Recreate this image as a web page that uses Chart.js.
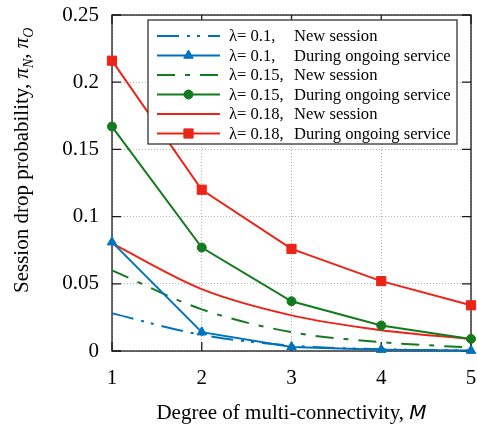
<!DOCTYPE html>
<html>
<head>
<meta charset="utf-8">
<script src="https://cdn.jsdelivr.net/npm/chart.js@4.4.0/dist/chart.umd.min.js"></script>
<style>
  body { margin: 0; background: #fff; }
  #wrap { width: 477px; height: 426px; }
</style>
</head>
<body>
<div id="wrap"><canvas id="chartCanvas" width="477" height="426"></canvas></div>
<script>
// degree of multi-connectivity M
const mValues = [1, 2, 3, 4, 5];
const yTicks = [0, 0.05, 0.1, 0.15, 0.2, 0.25];

// session drop probability
const newL01 = [0.028, 0.012, 0.004, 0.0013, 0.0004];
const ongoingL01 = [0.081, 0.014, 0.003, 0.001, 0.0003];
const newL015 = [0.060, 0.031, 0.014, 0.0066, 0.0025];
const ongoingL015 = [0.167, 0.077, 0.037, 0.019, 0.009];
const newL018 = [0.080, 0.046, 0.0265, 0.0155, 0.009];
const ongoingL018 = [0.216, 0.120, 0.076, 0.052, 0.034];

const lambdaLabels = ['λ= 0.1,', 'λ= 0.1,', 'λ= 0.15,', 'λ= 0.15,', 'λ= 0.18,', 'λ= 0.18,'];
const kindLabels = ['New session', 'During ongoing service', 'New session',
  'During ongoing service', 'New session', 'During ongoing service'];

const BLUE = '#0072bd';
const GREEN = '#137a1e';
const RED = '#ec2418';
const SERIF = '"Liberation Serif", "Times New Roman", serif';

function pts(arr) {
  return arr.map((v, i) => ({ x: mValues[i], y: v }));
}

function newSession(idx, data, color, dash) {
  return {
    label: lambdaLabels[idx] + ' ' + kindLabels[idx],
    data: pts(data),
    borderColor: color,
    backgroundColor: color,
    borderWidth: 2,
    borderDash: dash,
    pointRadius: 0,
    cubicInterpolationMode: 'monotone',
    clip: false
  };
}

function ongoing(idx, data, color, style, radius) {
  return {
    label: lambdaLabels[idx] + ' ' + kindLabels[idx],
    data: pts(data),
    borderColor: color,
    backgroundColor: color,
    borderWidth: 2,
    pointStyle: style,
    pointRadius: radius,
    pointBorderWidth: 1,
    tension: 0,
    clip: false
  };
}

// frame round the plot with inward tick marks on all four sides
const framePlugin = {
  id: 'frame',
  beforeDatasetsDraw(chart) {
    const { ctx, chartArea: a, scales } = chart;
    const len = 9;
    ctx.save();
    ctx.strokeStyle = '#1a1a1a';
    ctx.lineWidth = 1.3;
    ctx.beginPath();
    mValues.forEach(v => {
      const x = scales.x.getPixelForValue(v);
      ctx.moveTo(x, a.bottom); ctx.lineTo(x, a.bottom - len);
      ctx.moveTo(x, a.top); ctx.lineTo(x, a.top + len);
    });
    yTicks.forEach(v => {
      const y = scales.y.getPixelForValue(v);
      ctx.moveTo(a.left, y); ctx.lineTo(a.left + len, y);
      ctx.moveTo(a.right, y); ctx.lineTo(a.right - len, y);
    });
    ctx.stroke();
    ctx.strokeRect(a.left, a.top, a.right - a.left, a.bottom - a.top);
    ctx.restore();
  }
};

// axis titles with italic symbols
const titlePlugin = {
  id: 'titles',
  afterDraw(chart) {
    const { ctx, chartArea: a } = chart;
    ctx.save();
    ctx.fillStyle = '#000';
    ctx.textBaseline = 'alphabetic';

    // x title
    const xt = 'Degree of multi-connectivity, ';
    ctx.font = '21px ' + SERIF;
    const w1 = ctx.measureText(xt).width;
    ctx.font = 'italic 20px "DejaVu Sans", sans-serif';
    const w2 = ctx.measureText('M').width;
    const x0 = (a.left + a.right) / 2 - (w1 + w2) / 2;
    ctx.font = '21px ' + SERIF;
    ctx.fillText(xt, x0, 419);
    ctx.font = 'italic 20px "DejaVu Sans", sans-serif';
    ctx.fillText('M', x0 + w1, 419);

    // y title, rotated
    ctx.translate(28, 293);
    ctx.rotate(-Math.PI / 2);
    let x = 0;
    const put = (txt, font, dy) => {
      ctx.font = font;
      ctx.fillText(txt, x, dy);
      x += ctx.measureText(txt).width;
    };
    put('Session drop probability, ', '21px ' + SERIF, 0);
    put('π', 'italic 21px ' + SERIF, 0);
    put('N', 'italic 14px ' + SERIF, 5);
    put(', ', '21px ' + SERIF, 0);
    put('π', 'italic 21px ' + SERIF, 0);
    put('O', 'italic 14px ' + SERIF, 5);
    ctx.restore();
  }
};

// boxed legend with the descriptions in one column
const legendPlugin = {
  id: 'boxLegend',
  afterDraw(chart) {
    const { ctx } = chart;
    const bx = 148, by = 20, bw = 309, bh = 124;
    ctx.save();
    ctx.fillStyle = '#fff';
    ctx.fillRect(bx, by, bw, bh);
    ctx.strokeStyle = '#333';
    ctx.lineWidth = 1.3;
    ctx.strokeRect(bx, by, bw, bh);
    chart.data.datasets.forEach((ds, i) => {
      const y = 36 + i * 19.5;
      ctx.strokeStyle = ds.borderColor;
      ctx.fillStyle = ds.backgroundColor;
      ctx.lineWidth = 2;
      ctx.setLineDash(ds.borderDash || []);
      ctx.beginPath();
      ctx.moveTo(157, y);
      ctx.lineTo(220, y);
      ctx.stroke();
      ctx.setLineDash([]);
      if (ds.pointRadius > 0) {
        ctx.lineWidth = 1;
        Chart.helpers.drawPoint(ctx, {
          pointStyle: ds.pointStyle, radius: ds.pointRadius, rotation: 0, borderWidth: 1
        }, 188.5, y);
      }
      ctx.fillStyle = '#000';
      ctx.font = '16.6px ' + SERIF;
      ctx.textBaseline = 'middle';
      ctx.fillText(lambdaLabels[i], 229, y + 1);
      ctx.fillText(kindLabels[i], 294, y + 1);
    });
    ctx.restore();
  }
};

const ctx = document.getElementById('chartCanvas').getContext('2d');
const chart = new Chart(ctx, {
  type: 'line',
  data: {
    datasets: [
      newSession(0, newL01, BLUE, [22, 8, 3, 7, 3, 8]),
      ongoing(1, ongoingL01, BLUE, 'triangle', 5.5),
      newSession(2, newL015, GREEN, [18, 10, 5, 10]),
      ongoing(3, ongoingL015, GREEN, 'circle', 4.5),
      newSession(4, newL018, RED, []),
      ongoing(5, ongoingL018, RED, 'rect', 6.5)
    ]
  },
  options: {
    responsive: false,
    animation: false,
    layout: { autoPadding: false, padding: { left: 0, top: 15, right: 6, bottom: 0 } },
    plugins: {
      legend: { display: false },
      tooltip: { enabled: false }
    },
    scales: {
      x: {
        type: 'linear',
        min: 1,
        max: 5,
        afterFit: s => { s.height = 75; s.paddingLeft = 0; s.paddingRight = 0; },
        afterBuildTicks: s => { s.ticks = mValues.map(v => ({ value: v })); },
        ticks: {
          color: '#000',
          padding: 15,
          font: { family: SERIF, size: 21 },
          callback: v => String(v)
        },
        grid: { color: '#b4b4b4', lineWidth: 1, drawTicks: false },
        border: { display: false, dash: [1, 2] }
      },
      y: {
        type: 'linear',
        min: 0,
        max: 0.25,
        afterFit: s => { s.width = 112; s.paddingTop = 0; s.paddingBottom = 0; },
        afterBuildTicks: s => { s.ticks = yTicks.map(v => ({ value: v })); },
        ticks: {
          color: '#000',
          padding: 13,
          font: { family: SERIF, size: 21 },
          callback: v => String(+v.toFixed(2))
        },
        grid: { color: '#b4b4b4', lineWidth: 1, drawTicks: false },
        border: { display: false, dash: [1, 2] }
      }
    }
  },
  plugins: [framePlugin, titlePlugin, legendPlugin]
});
</script>
</body>
</html>
